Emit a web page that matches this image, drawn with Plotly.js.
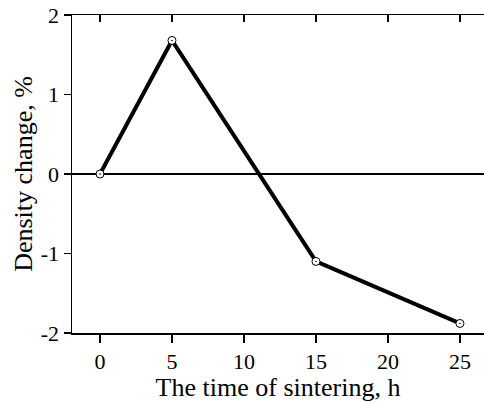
<!DOCTYPE html>
<html>
<head>
<meta charset="utf-8">
<script src="https://cdn.plot.ly/plotly-3.0.1.min.js"></script>
<style>html,body{margin:0;padding:0;background:#fff;}#chart{width:484px;height:402px;}</style>
</head>
<body>
<div id="chart"></div>
<script>
var timeHours = [0, 5, 15, 25];
var densityChange = [0, 1.68, -1.1, -1.88];
var xTickVals = [0, 5, 10, 15, 20, 25];
var xTickText = ["0", "5", "10", "15", "20", "25"];
var yTickVals = [-2, -1, 0, 1, 2];
var yTickText = ["-2", "-1", "0", "1", "2"];

var font = "Liberation Serif, Times New Roman, serif";

var traces = [
  {
    x: timeHours, y: densityChange, type: "scatter", mode: "lines",
    line: {color: "#000", width: 4}, hoverinfo: "skip", showlegend: false
  },
  {
    x: timeHours, y: densityChange, type: "scatter", mode: "markers",
    marker: {symbol: "circle-dot", size: 8, color: "#fff", line: {color: "#000", width: 1}},
    hoverinfo: "skip", showlegend: false
  },
  {
    x: timeHours, y: densityChange, xaxis: "x2", type: "scatter", mode: "markers",
    marker: {opacity: 0}, hoverinfo: "skip", showlegend: false
  }
];

var xr = [-1.944, 26.67];
var layout = {
  width: 484, height: 402,
  margin: {l: 72, r: 0, t: 15, b: 69},
  paper_bgcolor: "#fff", plot_bgcolor: "#fff",
  font: {family: font, color: "#000"},
  xaxis: {
    range: xr, tickvals: xTickVals, ticktext: xTickText,
    ticks: "outside", ticklen: 8, tickwidth: 1.5, tickcolor: "#000",
    showline: true, linecolor: "#000", linewidth: 1.5,
    showgrid: false, zeroline: false,
    tickfont: {family: font, size: 22, color: "#000"},
    title: {text: "The time of sintering, h", font: {family: font, size: 26, color: "#000"}, standoff: 3}
  },
  xaxis2: {
    range: xr, overlaying: "x", side: "top", tickvals: xTickVals,
    ticks: "inside", ticklen: 7, tickwidth: 1.5, tickcolor: "#000",
    showticklabels: false, showline: true, linecolor: "#000", linewidth: 1.5,
    showgrid: false, zeroline: false
  },
  yaxis: {
    range: [-2, 2], tickvals: yTickVals, ticktext: yTickText,
    ticks: "outside", ticklen: 7, tickwidth: 1.5, tickcolor: "#000",
    showline: true, linecolor: "#000", linewidth: 1.5,
    showgrid: false, zeroline: true, zerolinecolor: "#000", zerolinewidth: 1.5,
    tickfont: {family: font, size: 22, color: "#000"},
    title: {text: "Density change, %", font: {family: font, size: 26, color: "#000"}, standoff: 0}
  }
};

Plotly.newPlot("chart", traces, layout, {displayModeBar: false, staticPlot: true});
</script>
</body>
</html>
